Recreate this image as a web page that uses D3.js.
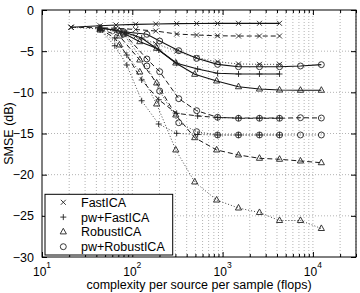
<!DOCTYPE html>
<html>
<head>
<meta charset="utf-8">
<script src="https://cdn.jsdelivr.net/npm/d3@7"></script>
<style>
  body { margin: 0; background: #fff; }
  svg { display: block; font-family: "Liberation Sans", Arial, sans-serif; }
</style>
</head>
<body>
<div id="chart"></div>
<script>
// legend / methods
const methods = ["FastICA", "pw+FastICA", "RobustICA", "pw+RobustICA"];
const markerKinds = ["x", "plus", "triangle", "circle"];
const lineStyles = ["solid", "dashed", "dotted"];

// complexity per source per sample (flops)
const fastX = [21, 44, 66, 109, 182, 310, 516, 880, 1500, 2560, 4270];
const pwFastX = [44, 64, 87, 127, 196, 310, 529, 880, 1500, 2560, 4270];
const robustX = [44, 72, 121, 186, 303, 491, 859, 1500, 2560, 4270, 7280, 12400];
const pwRobustX = [80, 145, 201, 327, 516, 880, 1500, 2560, 4270, 7280, 12400];

// SMSE (dB), one array per line style
const fastSolid = [-2.1, -1.92, -1.82, -1.74, -1.70, -1.66, -1.64, -1.63, -1.62, -1.62, -1.62];
const fastDashed = [-2.1, -2.16, -2.22, -2.37, -2.55, -2.92, -3.04, -3.13, -3.16, -3.16, -3.16];
const fastDotted = [-2.1, -2.3, -2.6, -3.2, -4.1, -5.0, -5.8, -6.3, -6.55, -6.6, -6.6];

const pwFastSolid = [-2.19, -2.43, -2.79, -3.4, -4.86, -6.47, -7.17, -7.69, -7.77, -7.77, -7.77];
const pwFastDashed = [-2.31, -3.4, -5.47, -8.5, -10.9, -12.55, -12.87, -13.06, -13.12, -13.12, -13.12];
const pwFastDotted = [-2.43, -4.34, -6.68, -11.02, -13.85, -14.98, -15.12, -15.18, -15.18, -15.18, -15.18];

const robustSolid = [-2.19, -2.55, -3.85, -4.65, -6.44, -7.81, -8.62, -9.32, -9.6, -9.72, -9.75, -9.75];
const robustDashed = [-2.31, -3.16, -6.07, -8.87, -12.75, -15.51, -17.0, -17.61, -18.01, -18.13, -18.34, -18.55];
const robustDotted = [-2.43, -4.25, -7.53, -11.42, -17.0, -20.89, -23.08, -24.05, -24.6, -25.57, -25.57, -26.54];

const pwRobustSolid = [-2.64, -2.95, -3.77, -4.94, -5.87, -6.6, -6.89, -6.89, -6.89, -6.8, -6.64];
const pwRobustDashed = [-2.79, -5.95, -7.49, -10.77, -12.23, -13.03, -13.15, -13.15, -13.15, -13.08, -13.12];
const pwRobustDotted = [-2.92, -6.8, -9.84, -13.69, -14.78, -15.18, -15.18, -15.18, -15.18, -15.18, -15.18];

const xTickLabels = [10, 100, 1000, 10000];
const yTicks = [0, -5, -10, -15, -20, -25, -30];

const series = [
  [fastX, [fastSolid, fastDashed, fastDotted]],
  [pwFastX, [pwFastSolid, pwFastDashed, pwFastDotted]],
  [robustX, [robustSolid, robustDashed, robustDotted]],
  [pwRobustX, [pwRobustSolid, pwRobustDashed, pwRobustDotted]]
].flatMap(([xs, ys], m) => ys.map((vals, s) => ({
  marker: markerKinds[m],
  style: lineStyles[s],
  points: xs.map((v, i) => [v, vals[i]])
})));

const margin = { top: 10, right: 4, bottom: 36, left: 42 },
    width = 360 - margin.left - margin.right,
    height = 293 - margin.top - margin.bottom;

const fontSize = 12.5;

const svgRoot = d3.select("#chart")
    .append("svg")
    .attr("width", 360)
    .attr("height", 293);

const svg = svgRoot.append("g")
    .attr("transform", `translate(${margin.left},${margin.top})`);

const x = d3.scaleLog().domain([10, 30000]).range([0, width]);
const y = d3.scaleLinear().domain([-30, 0]).range([height, 0]);

const isMajor = d => Math.abs(Math.log10(d) - Math.round(Math.log10(d))) < 1e-6;

// grid
const grid = svg.append("g")
    .attr("stroke", "#a0a0a0")
    .attr("stroke-width", 0.8)
    .attr("stroke-dasharray", "1,2");

grid.selectAll("line.v")
    .data(x.ticks().filter(d => d > 10))
    .join("line")
    .attr("x1", d => x(d)).attr("x2", d => x(d))
    .attr("y1", 0).attr("y2", height);

grid.selectAll("line.h")
    .data(yTicks.filter(d => d > -30 && d < 0))
    .join("line")
    .attr("x1", 0).attr("x2", width)
    .attr("y1", d => y(d)).attr("y2", d => y(d));

// axes (ticks pointing inward)
function xAxis(axisFn, ty) {
  const g = svg.append("g")
      .attr("transform", `translate(0,${ty})`)
      .call(axisFn(x).tickValues(x.ticks()).tickSizeInner(-3).tickSizeOuter(0).tickFormat(""));
  g.select(".domain").remove();
  g.selectAll(".tick line")
      .attr("stroke", "#000")
      .filter(isMajor)
      .attr("y2", axisFn === d3.axisBottom ? -5 : 5);
  return g;
}
xAxis(d3.axisBottom, height);
xAxis(d3.axisTop, 0);

function yAxis(axisFn, tx, labels) {
  const g = svg.append("g")
      .attr("transform", `translate(${tx},0)`)
      .call(axisFn(y).tickValues(yTicks).tickSizeInner(-5).tickSizeOuter(0)
        .tickPadding(8).tickFormat(labels ? (d => d === 0 ? "0" : "\u2212" + Math.abs(d)) : ""));
  g.select(".domain").remove();
  g.selectAll(".tick line").attr("stroke", "#000");
  g.selectAll("text")
      .style("font-size", `${fontSize}px`)
      .attr("fill", "#000");
  return g;
}
yAxis(d3.axisLeft, 0, true);
yAxis(d3.axisRight, width, false);

// x tick labels 10^n
const xl = svg.append("g").selectAll("text")
    .data(xTickLabels)
    .join("text")
    .attr("x", d => x(d))
    .attr("y", height + 18.5)
    .attr("text-anchor", "middle")
    .style("font-size", "12px");
xl.append("tspan").text("10");
xl.append("tspan")
    .attr("dy", -7.5)
    .style("font-size", "8.5px")
    .text(d => Math.round(Math.log10(d)));

// frame
svg.append("rect")
    .attr("width", width)
    .attr("height", height)
    .attr("fill", "none")
    .attr("stroke", "#000")
    .attr("stroke-width", 1);

// axis titles
svg.append("text")
    .attr("x", width / 2)
    .attr("y", height + 32.3)
    .attr("text-anchor", "middle")
    .style("font-size", `${fontSize}px`)
    .text("complexity per source per sample (flops)");

svg.append("text")
    .attr("transform", "rotate(-90)")
    .attr("x", -height / 2)
    .attr("y", -29)
    .attr("text-anchor", "middle")
    .style("font-size", `${fontSize}px`)
    .text("SMSE (dB)");

// markers
function markerPath(kind) {
  if (kind === "x") return "M-2.5,-2.5L2.5,2.5M-2.5,2.5L2.5,-2.5";
  if (kind === "plus") return "M-3,0H3M0,-3V3";
  if (kind === "triangle") return "M0,-3.6L3.1,2L-3.1,2Z";
  return d3.symbol(d3.symbolCircle, 28)();
}

const dash = { solid: null, dashed: "5,3", dotted: "1,2" };
const lineColor = { solid: "#111", dashed: "#1a1a1a", dotted: "#444" };

const lineGen = d3.line()
    .x(d => x(d[0]))
    .y(d => y(d[1]));

const plot = svg.append("g");

plot.selectAll("path.series")
    .data(series)
    .join("path")
    .attr("class", "series")
    .attr("fill", "none")
    .attr("stroke", d => lineColor[d.style])
    .attr("stroke-width", d => d.style === "solid" ? 1.1 : 1)
    .attr("stroke-dasharray", d => dash[d.style])
    .attr("d", d => lineGen(d.points));

series.forEach(s => {
  plot.append("g").selectAll("path")
      .data(s.points)
      .join("path")
      .attr("transform", d => `translate(${x(d[0])},${y(d[1])})`)
      .attr("d", markerPath(s.marker))
      .attr("fill", "none")
      .attr("stroke", "#222")
      .attr("stroke-width", 0.9);
});

// legend
const legend = svg.append("g")
    .attr("transform", `translate(3,${height - 62.7})`);

legend.append("rect")
    .attr("width", 127.7)
    .attr("height", 60.7)
    .attr("fill", "#fff")
    .attr("stroke", "#000")
    .attr("stroke-width", 1);

const rows = legend.selectAll("g.row")
    .data(methods)
    .join("g")
    .attr("transform", (d, i) => `translate(0,${8 + i * 14.8})`);

rows.append("path")
    .attr("transform", "translate(18.3,0)")
    .attr("d", (d, i) => markerPath(markerKinds[i]))
    .attr("fill", "none")
    .attr("stroke", "#222")
    .attr("stroke-width", 0.9);

rows.append("text")
    .attr("x", 36)
    .attr("y", 4.5)
    .style("font-size", `${fontSize}px`)
    .text(d => d);
</script>
</body>
</html>
